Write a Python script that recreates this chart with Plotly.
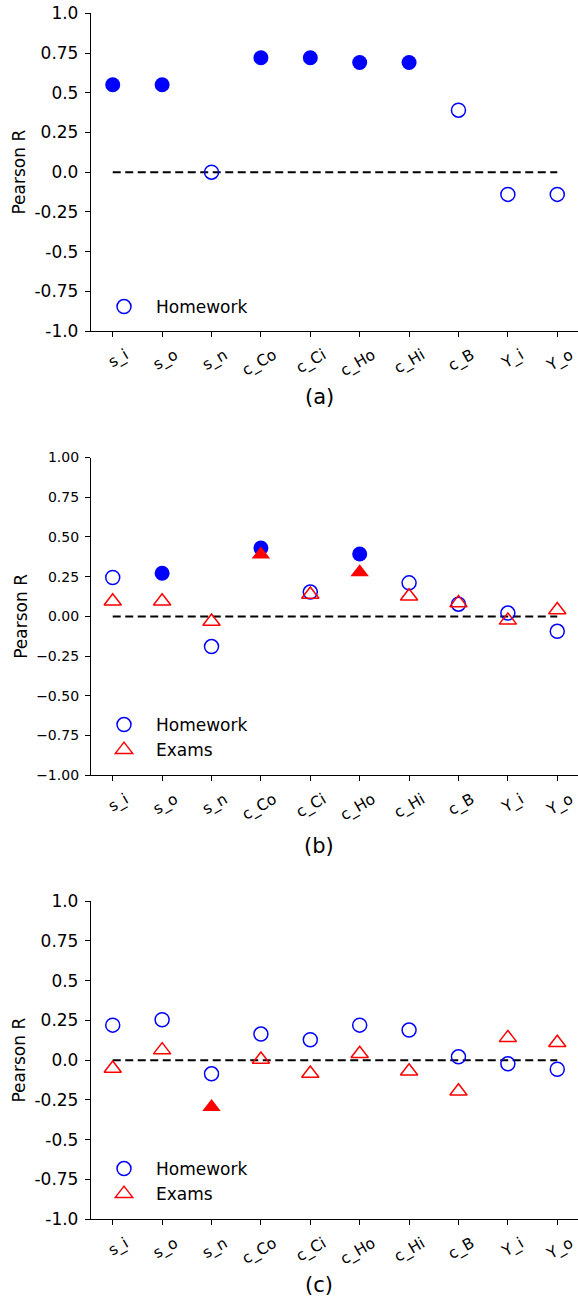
import plotly.graph_objects as go

# ---------------- data ----------------
categories = ["s_i", "s_o", "s_n", "c_Co", "c_Ci", "c_Ho", "c_Hi", "c_B", "Y_i", "Y_o"]

hw_a = [0.55, 0.55, 0.00, 0.72, 0.72, 0.69, 0.69, 0.39, -0.14, -0.14]
hw_a_sig = [1, 1, 0, 1, 1, 1, 1, 0, 0, 0]

hw_b = [0.245, 0.272, -0.19, 0.43, 0.153, 0.393, 0.211, 0.077, 0.021, -0.094]
hw_b_sig = [0, 1, 0, 1, 0, 1, 0, 0, 0, 0]
ex_b = [0.095, 0.095, -0.032, 0.389, 0.138, 0.278, 0.127, 0.085, -0.025, 0.04]
ex_b_sig = [0, 0, 0, 1, 0, 1, 0, 0, 0, 0]

hw_c = [0.22, 0.254, -0.086, 0.164, 0.128, 0.22, 0.189, 0.021, -0.023, -0.057]
hw_c_sig = [0, 0, 0, 0, 0, 0, 0, 0, 0, 0]
ex_c = [-0.052, 0.063, -0.295, 0.004, -0.084, 0.04, -0.07, -0.195, 0.14, 0.109]
ex_c_sig = [0, 0, 1, 0, 0, 0, 0, 0, 0, 0]

zero_line = [0.0, 0.0]

ytick_vals = [-1.0, -0.75, -0.5, -0.25, 0.0, 0.25, 0.5, 0.75, 1.0]
ytick_text_ac = ["-1.0", "-0.75", "-0.5", "-0.25", "0.0", "0.25", "0.5", "0.75", "1.0"]
ytick_text_b = ["\u22121.00", "\u22120.75", "\u22120.50", "\u22120.25", "0.00", "0.25", "0.50", "0.75", "1.00"]

panel_labels = ["(a)", "(b)", "(c)"]
series_names = ["Homework", "Exams"]

# ---------------- style ----------------
FONT = "DejaVu Sans"
BLUE = "#0000ff"
RED = "#ff0000"
W, H = 578, 1301
ML = 91

y_domains = [
    [1 - 331.0 / H, 1 - 13.3 / H],
    [1 - 775.3 / H, 1 - 457.5 / H],
    [1 - 1219.3 / H, 1 - 901.0 / H],
]
title_y_px = [397, 846, 1285]
legend_top_px = [289, 707, 1151]

fig = go.Figure()


def split(vals, sig, want):
    xs, ys = [], []
    for c, v, s in zip(categories, vals, sig):
        if s == want:
            xs.append(c)
            ys.append(v)
    return xs, ys


def add_series(vals, sig, name, color, sym, size, xa, ya, leg):
    xo, yo = split(vals, sig, 0)
    fig.add_trace(go.Scatter(
        x=xo, y=yo, mode="markers", name=name, xaxis=xa, yaxis=ya, legend=leg,
        marker=dict(symbol=sym + "-open", color=color, size=size,
                    line=dict(width=1.5, color=color)),
        showlegend=True, cliponaxis=False))
    xf, yf = split(vals, sig, 1)
    if xf:
        fig.add_trace(go.Scatter(
            x=xf, y=yf, mode="markers", name=name, xaxis=xa, yaxis=ya, legend=leg,
            marker=dict(symbol=sym, color=color, size=size + 1,
                        line=dict(width=0)),
            showlegend=False, cliponaxis=False))


panels = [
    [(hw_a, hw_a_sig, series_names[0], BLUE, "circle", 14)],
    [(hw_b, hw_b_sig, series_names[0], BLUE, "circle", 14),
     (ex_b, ex_b_sig, series_names[1], RED, "triangle-up", 15)],
    [(hw_c, hw_c_sig, series_names[0], BLUE, "circle", 14),
     (ex_c, ex_c_sig, series_names[1], RED, "triangle-up", 15)],
]

for i, series in enumerate(panels):
    sfx = "" if i == 0 else str(i + 1)
    xa, ya, leg = "x" + sfx, "y" + sfx, "legend" + sfx
    fig.add_trace(go.Scatter(
        x=[categories[0], categories[-1]], y=zero_line, mode="lines",
        line=dict(color="black", width=2, dash="8px,4.5px"),
        xaxis=xa, yaxis=ya, showlegend=False, hoverinfo="skip"))
    for s in series:
        add_series(*s, xa, ya, leg)

layout = dict(
    width=W, height=H,
    margin=dict(l=ML, r=0, t=0, b=0, autoexpand=False),
    plot_bgcolor="white", paper_bgcolor="white",
    font=dict(family=FONT, color="black"),
    annotations=[],
)

for i in range(3):
    sfx = "" if i == 0 else str(i + 1)
    layout["xaxis" + sfx] = dict(
        domain=[0, 1], anchor="y" + sfx, type="category",
        categoryorder="array", categoryarray=categories,
        range=[-0.44, 9.42], showgrid=False, zeroline=False, automargin=False,
        showline=True, linecolor="black", linewidth=1.3,
        ticks="outside", ticklen=5, tickwidth=1.3, tickcolor="black",
        tickangle=-30, tickfont=dict(size=15.5, family=FONT),
        ticklabelshift=13, ticklabelstandoff=3,
    )
    layout["yaxis" + sfx] = dict(
        domain=y_domains[i], anchor="x" + sfx, range=[-1, 1], automargin=False,
        showgrid=False, zeroline=False,
        showline=True, linecolor="black", linewidth=1.3,
        ticks="outside", ticklen=5, tickwidth=1.3, tickcolor="black",
        tickmode="array", tickvals=ytick_vals,
        ticktext=ytick_text_b if i == 1 else ytick_text_ac,
        tickfont=dict(size=14 if i == 1 else 17, family=FONT),
        ticklabelstandoff=3,
        title=dict(text="Pearson R", font=dict(size=17, family=FONT), standoff=4),
    )
    layout["legend" + sfx] = dict(
        x=(92 - ML) / (W - ML), xanchor="left",
        y=1 - legend_top_px[i] / H, yanchor="top",
        bgcolor="rgba(0,0,0,0)", borderwidth=0,
        font=dict(size=17, family=FONT), itemwidth=54,
        tracegroupgap=0,
    )
    layout["annotations"].append(dict(
        text=panel_labels[i], x=319 / W, y=1 - title_y_px[i] / H,
        xref="paper", yref="paper", xanchor="center", yanchor="middle",
        showarrow=False, font=dict(size=21, family=FONT)))

# annotations in paper coords are relative to the plot area; convert x
for a in layout["annotations"]:
    a["x"] = (a["x"] * W - ML) / (W - ML)

fig.update_layout(**layout)
fig.write_html("out.html", config={"displayModeBar": False},
               post_script="document.body.style.margin='0';document.body.style.overflow='hidden';")
